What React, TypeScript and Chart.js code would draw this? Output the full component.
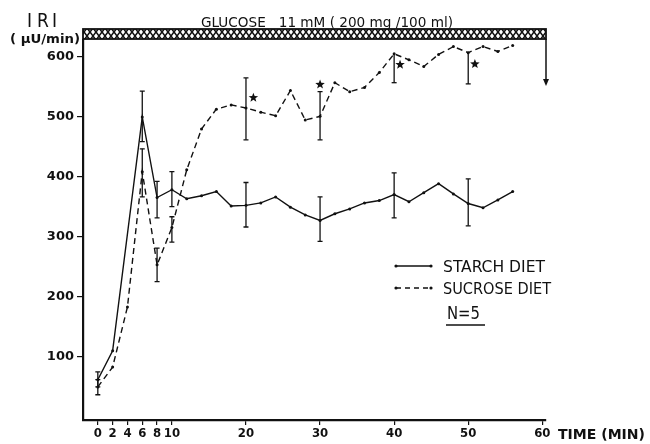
import React, { useEffect, useRef } from 'react';
import { Chart, registerables } from 'chart.js';

Chart.register(...registerables);

// ---- data ----
const starchT = [0, 2, 6, 8, 10, 12, 14, 16, 18, 20, 22, 24, 26, 28, 30, 32, 34, 36, 38, 40, 42, 44, 46, 48, 50, 52, 54, 56];
const starchV = [62, 110, 499, 365, 378, 363, 368, 375, 351, 352, 356, 366, 349, 336, 327, 338, 346, 356, 360, 370, 358, 373, 388, 371, 355, 348, 361, 375];

const sucroseT = [0, 2, 4, 6, 8, 10, 12, 14, 16, 18, 20, 22, 24, 26, 28, 30, 32, 34, 36, 38, 40, 42, 44, 46, 48, 50, 52, 54, 56];
const sucroseV = [50, 83, 183, 408, 253, 315, 411, 479, 512, 519, 514, 507, 501, 543, 494, 500, 556, 541, 548, 573, 604, 594, 583, 603, 616, 606, 616, 608, 618];

const starchErrT = [0, 6, 8, 10, 20, 30, 40, 50];
const starchErrLo = [50, 458, 331, 350, 316, 292, 331, 318];
const starchErrHi = [75, 542, 392, 408, 390, 366, 406, 396];

const sucroseErrT = [0, 6, 8, 10, 20, 30, 40, 50];
const sucroseErrLo = [37, 366, 225, 291, 461, 461, 556, 554];
const sucroseErrHi: (number | null)[] = [62, 446, 281, 333, 564, 541, null, null];

const starT = [21, 30, 40.8, 50.9];
const starV = [531, 553, 586, 587];

const xTicks = [0, 2, 4, 6, 8, 10, 20, 30, 40, 50, 60];
const yTicks = [100, 200, 300, 400, 500, 600];

const infusionEndValue = 552;

const titleText = 'GLUCOSE   11 mM ( 200 mg /100 ml)';
const yTitle = ['I', 'R', 'I'];
const yUnit = '( µU/min)';
const xTitle = 'TIME (MIN)';
const legendLabels = ['STARCH DIET', 'SUCROSE DIET'];
const nLabel = 'N=5';

const FONT = '"DejaVu Sans Condensed", "Liberation Sans Narrow", "DejaVu Sans", sans-serif';
const TICKFONT = '"DejaVu Sans", "Liberation Sans", sans-serif';
const INK = '#111';

function makePattern(ctx: CanvasRenderingContext2D) {
  const c = document.createElement('canvas');
  c.width = 6;
  c.height = 8;
  const p = c.getContext('2d')!;
  p.fillStyle = '#fff';
  p.fillRect(0, 0, 6, 8);
  p.strokeStyle = '#111';
  p.lineWidth = 1.6;
  p.beginPath();
  p.moveTo(0, 0);
  p.lineTo(6, 8);
  p.moveTo(6, 0);
  p.lineTo(0, 8);
  p.stroke();
  return ctx.createPattern(c, 'repeat');
}

function drawStar(ctx: CanvasRenderingContext2D, cx: number, cy: number, r: number) {
  ctx.beginPath();
  for (let i = 0; i < 10; i++) {
    const rad = i % 2 === 0 ? r : r * 0.42;
    const a = -Math.PI / 2 + (i * Math.PI) / 5;
    const px = cx + rad * Math.cos(a);
    const py = cy + rad * Math.sin(a);
    if (i === 0) ctx.moveTo(px, py);
    else ctx.lineTo(px, py);
  }
  ctx.closePath();
  ctx.fill();
}

// draws text horizontally scaled to a target width
function fitText(ctx: CanvasRenderingContext2D, text: string, x: number, y: number, w: number) {
  const mw = ctx.measureText(text).width;
  ctx.save();
  ctx.translate(x, y);
  ctx.scale(w / mw, 1);
  ctx.textAlign = 'left';
  ctx.fillText(text, 0, 0);
  ctx.restore();
}

const decorPlugin = {
  id: 'decor',
  afterDatasetsDraw(chart: any) {
    const { ctx, chartArea } = chart;
    const xs = chart.scales.x;
    const ys = chart.scales.y;
    ctx.save();
    ctx.strokeStyle = INK;
    ctx.fillStyle = INK;

    // error bars
    const drawErr = (ts: number[], lo: number[], hi: (number | null)[], mt: number[], mv: number[]) => {
      ctx.lineWidth = 1.3;
      ts.forEach((t, i) => {
        const x = xs.getPixelForValue(t);
        const mean = mv[mt.indexOf(t)];
        const top = hi[i] == null ? mean : (hi[i] as number);
        const yTop = ys.getPixelForValue(top);
        const yBot = ys.getPixelForValue(lo[i]);
        ctx.beginPath();
        ctx.moveTo(x, yTop);
        ctx.lineTo(x, yBot);
        ctx.stroke();
        ctx.beginPath();
        if (hi[i] != null) {
          ctx.moveTo(x - 2.5, yTop);
          ctx.lineTo(x + 2.5, yTop);
        }
        ctx.moveTo(x - 2.5, yBot);
        ctx.lineTo(x + 2.5, yBot);
        ctx.stroke();
      });
    };
    drawErr(starchErrT, starchErrLo, starchErrHi, starchT, starchV);
    drawErr(sucroseErrT, sucroseErrLo, sucroseErrHi, sucroseT, sucroseV);

    // stars
    starT.forEach((t, i) => drawStar(ctx, xs.getPixelForValue(t), ys.getPixelForValue(starV[i]), 5));

    // infusion bar
    const barTop = chartArea.top - 11;
    const barH = 10;
    ctx.fillStyle = makePattern(ctx) as any;
    ctx.fillRect(chartArea.left, barTop, chartArea.right - chartArea.left, barH);
    ctx.lineWidth = 1.8;
    ctx.strokeStyle = INK;
    ctx.strokeRect(chartArea.left, barTop, chartArea.right - chartArea.left, barH);
    ctx.fillStyle = INK;

    // arrow at end of infusion
    const ax = chartArea.right;
    const ay = ys.getPixelForValue(infusionEndValue);
    ctx.lineWidth = 1.5;
    ctx.beginPath();
    ctx.moveTo(ax, barTop + barH);
    ctx.lineTo(ax, ay - 5);
    ctx.stroke();
    ctx.beginPath();
    ctx.moveTo(ax - 3, ay - 6);
    ctx.lineTo(ax + 3, ay - 6);
    ctx.lineTo(ax, ay + 1);
    ctx.closePath();
    ctx.fill();

    // title
    ctx.textBaseline = 'alphabetic';
    ctx.font = `14px ${FONT}`;
    fitText(ctx, titleText, 201, 27, 252);

    // y title
    ctx.font = `19px ${FONT}`;
    const yx = [27, 37, 52];
    yTitle.forEach((ch, i) => ctx.fillText(ch, yx[i], 27));
    ctx.font = `bold 13px ${FONT}`;
    fitText(ctx, yUnit, 10, 43, 70);

    // x title
    ctx.font = `bold 14px ${FONT}`;
    fitText(ctx, xTitle, 558, 439, 87);

    // legend
    const lx0 = 396;
    const lx1 = 431;
    const rows = [266, 288];
    rows.forEach((ly, i) => {
      ctx.lineWidth = 1.3;
      ctx.setLineDash(i === 0 ? [] : [5, 4]);
      ctx.beginPath();
      ctx.moveTo(lx0, ly);
      ctx.lineTo(lx1, ly);
      ctx.stroke();
      ctx.setLineDash([]);
      ctx.beginPath();
      ctx.arc(lx0, ly, 1.6, 0, Math.PI * 2);
      ctx.arc(lx1, ly, 1.6, 0, Math.PI * 2);
      ctx.fill();
      ctx.font = `16px ${FONT}`;
      ctx.textBaseline = 'alphabetic';
      fitText(ctx, legendLabels[i], 443, ly + 6, i === 0 ? 102 : 108);
    });
    ctx.textBaseline = 'alphabetic';
    ctx.font = `18px ${FONT}`;
    fitText(ctx, nLabel, 447, 319, 33);
    ctx.lineWidth = 1.5;
    ctx.beginPath();
    ctx.moveTo(446, 325);
    ctx.lineTo(485, 325);
    ctx.stroke();

    ctx.restore();
  },
};

export default function App() {
  const ref = useRef<HTMLCanvasElement | null>(null);
  useEffect(() => {
    if (!ref.current) return;
    const chart = new Chart(ref.current, {
      type: 'line',
      data: {
        datasets: [
          {
            label: legendLabels[0],
            data: starchT.map((t, i) => ({ x: t, y: starchV[i] })),
            borderColor: INK,
            backgroundColor: INK,
            borderWidth: 1.4,
            pointRadius: 1.5,
            pointBorderWidth: 0,
            pointBackgroundColor: INK,
            tension: 0,
            fill: false,
          },
          {
            label: legendLabels[1],
            data: sucroseT.map((t, i) => ({ x: t, y: sucroseV[i] })),
            borderColor: INK,
            backgroundColor: INK,
            borderWidth: 1.4,
            borderDash: [6, 4],
            pointRadius: 1.5,
            pointBorderWidth: 0,
            pointBackgroundColor: INK,
            tension: 0,
            fill: false,
          },
        ],
      },
      options: {
        responsive: false,
        animation: false,
        events: [],
        layout: { padding: { left: 0, top: 40, right: 104, bottom: 0 } },
        plugins: { legend: { display: false }, tooltip: { enabled: false } },
        scales: {
          x: {
            type: 'linear',
            min: -2,
            max: 60.5,
            afterBuildTicks: (s: any) => {
              s.ticks = xTicks.map((v) => ({ value: v }));
            },
            afterFit: (s: any) => {
              s.height = 24;
            },
            ticks: {
              autoSkip: false,
              maxRotation: 0,
              padding: 1,
              color: INK,
              font: { family: FONT, size: 13, weight: 'bold' },
            },
            grid: { drawOnChartArea: false, tickLength: 5, color: INK, lineWidth: 1.2 },
            border: { color: INK, width: 2.2 },
          },
          y: {
            type: 'linear',
            min: -5,
            max: 627,
            afterBuildTicks: (s: any) => {
              s.ticks = yTicks.map((v) => ({ value: v }));
            },
            afterFit: (s: any) => {
              s.width = 83;
            },
            ticks: {
              padding: 3,
              color: INK,
              font: { family: TICKFONT, size: 13, weight: 'bold' },
            },
            grid: { drawOnChartArea: false, tickLength: 6, color: INK, lineWidth: 1.2 },
            border: { color: INK, width: 2.2 },
          },
        },
      },
      plugins: [decorPlugin],
    } as any);
    return () => chart.destroy();
  }, []);
  return (
    <div style={{ position: 'absolute', left: 0, top: 0, width: 650, height: 444, background: '#fff' }}>
      <canvas ref={ref} width={650} height={444} style={{ display: 'block' }} />
    </div>
  );
}
